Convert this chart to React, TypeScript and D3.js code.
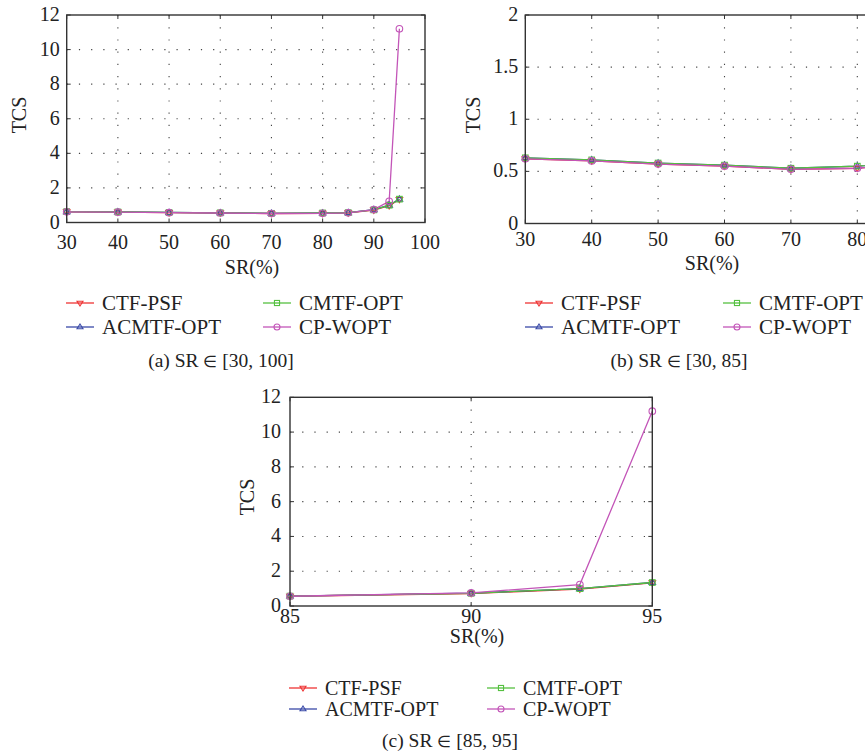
import React from "react";
import * as d3 from "d3";

const srValues = [30, 40, 50, 60, 70, 80, 85, 90, 93, 95];
const ctfPsf = [0.62, 0.6, 0.57, 0.55, 0.52, 0.53, 0.56, 0.72, 0.97, 1.33];
const acmtfOpt = [0.63, 0.61, 0.58, 0.56, 0.53, 0.55, 0.57, 0.74, 1.0, 1.35];
const cmtfOpt = [0.63, 0.61, 0.58, 0.56, 0.53, 0.55, 0.57, 0.73, 1.0, 1.35];
const cpWopt = [0.62, 0.6, 0.57, 0.55, 0.52, 0.53, 0.56, 0.75, 1.23, 11.2];

const seriesNames = ["CTF-PSF", "ACMTF-OPT", "CMTF-OPT", "CP-WOPT"];
const seriesValues = [ctfPsf, acmtfOpt, cmtfOpt, cpWopt];
const seriesColors = ["#ee3333", "#3a4aa8", "#55c040", "#c355b8"];
const seriesMarkers = ["down", "up", "square", "circle"];

const ticksA_x = [30, 40, 50, 60, 70, 80, 90, 100];
const ticksA_y = [0, 2, 4, 6, 8, 10, 12];
const ticksB_x = [30, 40, 50, 60, 70, 80];
const ticksB_y = [0, 0.5, 1, 1.5, 2];
const ticksC_x = [85, 90, 95];
const ticksC_y = [0, 2, 4, 6, 8, 10, 12];

const FONT = "'Liberation Serif', 'Times New Roman', serif";
const TXT = "#222";

function Marker({ type, x, y, color, r }: { type: string; x: number; y: number; color: string; r: number }) {
  if (type === "circle") return <circle cx={x} cy={y} r={r} fill="none" stroke={color} strokeWidth={1.1} />;
  if (type === "square")
    return <rect x={x - r * 0.85} y={y - r * 0.85} width={r * 1.7} height={r * 1.7} fill="none" stroke={color} strokeWidth={1.1} />;
  const s = type === "up" ? -1 : 1;
  const pts = [
    [x - r, y - s * r * 0.6],
    [x + r, y - s * r * 0.6],
    [x, y + s * r * 1.0],
  ];
  return <polygon points={pts.map((p) => p.join(",")).join(" ")} fill="none" stroke={color} strokeWidth={1.1} />;
}

type PanelProps = {
  id: string;
  left: number; top: number; right: number; bottom: number;
  xDomain: [number, number]; yDomain: [number, number];
  xTicks: number[]; yTicks: number[];
  xLabelDy: number; yLabelGap: number; srY: number; srX: number; tcsX: number; tcsY: number;
  legendY: [number, number]; legendCols: [number, number]; legendFont: number;
  capLetter: string; capRange: string; captionX: number; captionY: number;
};

function Panel(p: PanelProps) {
  const x = d3.scaleLinear().domain(p.xDomain).range([p.left, p.right]);
  const y = d3.scaleLinear().domain(p.yDomain).range([p.bottom, p.top]);
  const idx = srValues.map((v, i) => i).filter((i) => srValues[i] >= p.xDomain[0] && srValues[i] <= p.xDomain[1] + 5);
  const w = p.right - p.left;
  const h = p.bottom - p.top;
  const innerX = p.xTicks.filter((t) => t > p.xDomain[0] && t < p.xDomain[1]);
  const innerY = p.yTicks.filter((t) => t > p.yDomain[0] && t < p.yDomain[1]);
  return (
    <g>
      <defs>
        <clipPath id={"clip" + p.id}>
          <rect x={p.left - 6} y={p.top - 6} width={w + 12} height={h + 12} />
        </clipPath>
      </defs>
      {innerX.map((t) => (
        <line key={"gx" + t} x1={x(t)} x2={x(t)} y1={p.top} y2={p.bottom} stroke="#444" strokeWidth={1.1} strokeDasharray="1.2,11" />
      ))}
      {innerY.map((t) => (
        <line key={"gy" + t} x1={p.left} x2={p.right} y1={y(t)} y2={y(t)} stroke="#444" strokeWidth={1.1} strokeDasharray="1.2,11" />
      ))}
      {p.xTicks.map((t) => (
        <g key={"tx" + t}>
          <line x1={x(t)} x2={x(t)} y1={p.bottom} y2={p.bottom - 4} stroke="#333" />
          <line x1={x(t)} x2={x(t)} y1={p.top} y2={p.top + 4} stroke="#333" />
          <text x={x(t)} y={p.bottom + p.xLabelDy} textAnchor="middle" fontSize={20} fontFamily={FONT} fill={TXT}>
            {t}
          </text>
        </g>
      ))}
      {p.yTicks.map((t) => (
        <g key={"ty" + t}>
          <line x1={p.left} x2={p.left + 4} y1={y(t)} y2={y(t)} stroke="#333" />
          <line x1={p.right} x2={p.right - 4} y1={y(t)} y2={y(t)} stroke="#333" />
          <text x={p.left - p.yLabelGap} y={y(t)} dy="0.3em" textAnchor="end" fontSize={20} fontFamily={FONT} fill={TXT}>
            {t}
          </text>
        </g>
      ))}
      <g clipPath={`url(#clip${p.id})`}>
        {seriesValues.map((vals, si) => {
          const path = d3
            .line<number>()
            .x((i) => x(srValues[i]))
            .y((i) => y(vals[i]))(idx);
          return <path key={"l" + si} d={path || ""} fill="none" stroke={seriesColors[si]} strokeWidth={1.3} />;
        })}
        {seriesValues.map((vals, si) =>
          idx
            .filter((i) => srValues[i] <= p.xDomain[1])
            .map((i) => (
              <Marker key={"m" + si + "-" + i} type={seriesMarkers[si]} x={x(srValues[i])} y={y(vals[i])} color={seriesColors[si]} r={3.3} />
            ))
        )}
      </g>
      <rect x={p.left} y={p.top} width={w} height={h} fill="none" stroke="#333" strokeWidth={1.4} />
      <text x={p.srX} y={p.srY} textAnchor="middle" fontSize={20} fontFamily={FONT} fill={TXT}>
        SR(%)
      </text>
      <text
        transform={`translate(${p.tcsX},${p.tcsY}) rotate(-90)`}
        textAnchor="middle"
        dy="0.35em"
        fontSize={20}
        fontFamily={FONT}
        fill={TXT}
      >
        TCS
      </text>
      {seriesNames.map((name, si) => {
        const col = si === 0 || si === 1 ? 0 : 1;
        const row = si === 0 || si === 2 ? 0 : 1;
        const lx = p.legendCols[col];
        const ly = p.legendY[row];
        return (
          <g key={"lg" + si}>
            <line x1={lx} x2={lx + 28} y1={ly} y2={ly} stroke={seriesColors[si]} strokeWidth={1.3} />
            <Marker type={seriesMarkers[si]} x={lx + 14} y={ly} color={seriesColors[si]} r={3} />
            <text x={lx + 36} y={ly} dy="0.33em" fontSize={p.legendFont} fontFamily={FONT} fill={TXT}>
              {name}
            </text>
          </g>
        );
      })}
      <text x={p.captionX} y={p.captionY} dy="0.33em" textAnchor="middle" fontSize={19.5} fontFamily={FONT} fill={TXT}>
        {p.capLetter + "  SR "}
        <tspan fontSize={16}>∈</tspan>
        {" " + p.capRange}
      </text>
    </g>
  );
}

export default function App() {
  return (
    <svg width={865} height={754} style={{ position: "absolute", left: 0, top: 0, background: "#fff" }}>
      <rect width={865} height={754} fill="#fff" />
      <Panel
        id="a"
        left={66.7} top={15} right={425} bottom={222.5}
        xDomain={[30, 100]} yDomain={[0, 12]}
        xTicks={ticksA_x} yTicks={ticksA_y}
        xLabelDy={26.5} yLabelGap={7} srX={252} srY={274} tcsX={19} tcsY={115}
        legendY={[303, 327]} legendCols={[66, 263]} legendFont={21}
        capLetter="(a)" capRange=" [30, 100]" captionX={221} captionY={361}
      />
      <Panel
        id="b"
        left={525.3} top={15} right={890.5} bottom={223.5}
        xDomain={[30, 85]} yDomain={[0, 2]}
        xTicks={ticksB_x} yTicks={ticksB_y}
        xLabelDy={22} yLabelGap={7} srX={712} srY={270} tcsX={473} tcsY={115}
        legendY={[303, 327]} legendCols={[525, 723]} legendFont={21}
        capLetter="(b)" capRange="[30, 85]" captionX={679} captionY={361}
      />
      <Panel
        id="c"
        left={290} top={397.3} right={652.3} bottom={606}
        xDomain={[85, 95]} yDomain={[0, 12]}
        xTicks={ticksC_x} yTicks={ticksC_y}
        xLabelDy={17} yLabelGap={9} srX={477} srY={643} tcsX={247} tcsY={497}
        legendY={[688, 709]} legendCols={[289, 487]} legendFont={20}
        capLetter="(c)" capRange="[85, 95]" captionX={450} captionY={741}
      />
    </svg>
  );
}
